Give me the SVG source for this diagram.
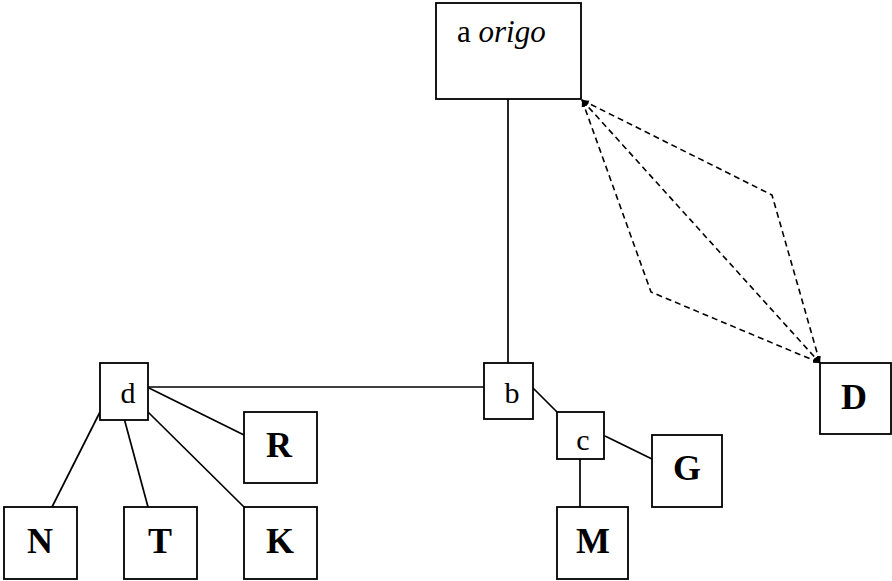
<svg xmlns="http://www.w3.org/2000/svg" width="892" height="581" viewBox="0 0 892 581">
  <style>
    .box { fill: #fff; stroke: #000; stroke-width: 1.8; }
    .edge { fill: none; stroke: #000; stroke-width: 1.7; }
    .dash { fill: none; stroke: #000; stroke-width: 1.6; stroke-dasharray: 6 4; marker-start: url(#tip); marker-end: url(#tip); }
    .lbl { font-family: "Liberation Serif", "Times New Roman", serif; font-size: 30px; fill: #000; text-anchor: middle; }
    .big { font-family: "Liberation Serif", "Times New Roman", serif; font-size: 36px; font-weight: bold; fill: #000; text-anchor: middle; }
  </style>
  <defs>
    <marker id="tip" viewBox="0 0 10 10" refX="10" refY="5" markerWidth="7" markerHeight="7" markerUnits="userSpaceOnUse" orient="auto-start-reverse">
      <path d="M0,1 L10,5 L0,9 Z" fill="#000"/>
    </marker>
  </defs>

  <rect width="892" height="581" fill="#fff"/>

  <!-- connectors -->
  <g id="connectors">
    <line class="edge" x1="508" y1="99" x2="508" y2="363"/>
    <line class="edge" x1="148" y1="387" x2="484" y2="387"/>
    <line class="edge" x1="533" y1="388" x2="557" y2="412"/>
    <line class="edge" x1="605" y1="436" x2="652" y2="459"/>
    <line class="edge" x1="580" y1="459" x2="580" y2="507"/>
    <line class="edge" x1="149" y1="388" x2="244" y2="435"/>
    <line class="edge" x1="148" y1="412" x2="244" y2="507"/>
    <line class="edge" x1="124" y1="418" x2="148" y2="507"/>
    <line class="edge" x1="100" y1="412" x2="52" y2="507"/>
    <path class="dash" d="M582,100 L820,363"/>
    <path class="dash" d="M582,100 L772,195 L820,363"/>
    <path class="dash" d="M582,100 L651,292 L820,363"/>
  </g>

  <!-- nodes -->
  <g id="node-a">
    <rect class="box" x="436" y="3" width="145" height="96"/>
    <text x="457" y="42" font-family="Liberation Serif, serif" font-size="31">a <tspan font-style="italic">origo</tspan></text>
  </g>
  <g id="node-b">
    <rect class="box" x="484" y="363" width="49" height="56"/>
    <text class="lbl" x="512" y="403">b</text>
  </g>
  <g id="node-c">
    <rect class="box" x="557" y="412" width="47" height="47"/>
    <text class="lbl" x="583" y="450">c</text>
  </g>
  <g id="node-d">
    <rect class="box" x="100" y="363" width="48" height="57"/>
    <text class="lbl" x="128" y="403">d</text>
  </g>
  <g id="node-R">
    <rect class="box" x="244" y="412" width="73" height="71"/>
    <text class="big" x="279" y="457">R</text>
  </g>
  <g id="node-N">
    <rect class="box" x="4" y="507" width="73" height="72"/>
    <text class="big" x="40" y="553">N</text>
  </g>
  <g id="node-T">
    <rect class="box" x="124" y="507" width="73" height="72"/>
    <text class="big" x="160" y="553">T</text>
  </g>
  <g id="node-K">
    <rect class="box" x="244" y="507" width="73" height="72"/>
    <text class="big" x="280" y="553">K</text>
  </g>
  <g id="node-G">
    <rect class="box" x="652" y="435" width="70" height="72"/>
    <text class="big" x="687" y="480">G</text>
  </g>
  <g id="node-M">
    <rect class="box" x="557" y="507" width="71" height="72"/>
    <text class="big" x="593" y="553">M</text>
  </g>
  <g id="node-D">
    <rect class="box" x="820" y="363" width="71" height="71"/>
    <text class="big" x="854" y="409">D</text>
  </g>
</svg>
